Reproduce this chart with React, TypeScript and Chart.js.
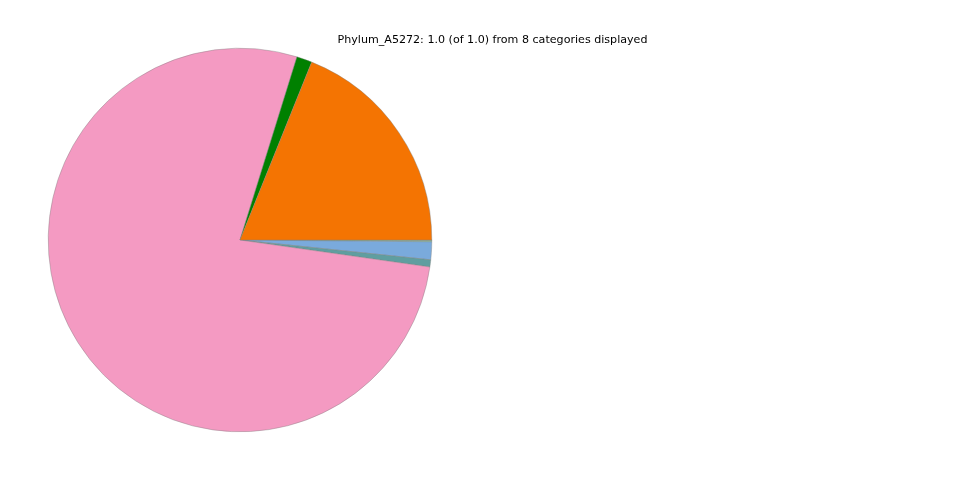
import React, { useEffect, useRef } from "react";
import { Chart, registerables } from "chart.js";

Chart.register(...registerables);

// Categories in matplotlib order (counter-clockwise from 3 o'clock)
const categories = ["Cat_1", "Cat_2", "Cat_3", "Cat_4", "Cat_5", "Cat_6", "Cat_7", "Cat_8"];
const values = [0.189, 0.013, 0.7755, 0.006, 0.015, 0.0008, 0.0004, 0.0003];
const colors = ["#f47402", "#008000", "#f49ac2", "#5f9ea0", "#7aaadc", "#90ee90", "#b0b0b0", "#d2b48c"];
const titleText = "Phylum_A5272: 1.0 (of 1.0) from 8 categories displayed";

export default function App() {
  const ref = useRef<HTMLCanvasElement>(null);
  useEffect(() => {
    document.body.style.margin = "0";
    const ctx = ref.current!;
    // Chart.js draws clockwise; reverse to mimic counter-clockwise ordering
    const labels = [...categories].reverse();
    const data = [...values].reverse();
    const bg = [...colors].reverse();
    const titlePlugin = {
      id: "titleText",
      afterDraw(chart: any) {
        const c = chart.ctx;
        c.save();
        c.font = '11.1px "DejaVu Sans"';
        c.fillStyle = "#000";
        c.textAlign = "center";
        c.textBaseline = "alphabetic";
        c.fillText(titleText, 492.5, 43);
        c.restore();
      },
    };
    const chart = new Chart(ctx, {
      type: "pie",
      data: {
        labels,
        datasets: [
          {
            data,
            backgroundColor: bg,
            borderColor: "#7f7f7f",
            borderWidth: 0.4,
          },
        ],
      },
      options: {
        responsive: false,
        animation: false,
        rotation: 90,
        layout: { padding: { left: 48, right: 528, top: 48, bottom: 48 } },
        plugins: {
          legend: { display: false },
          title: { display: false },
          tooltip: { enabled: false },
        },
      },
      plugins: [titlePlugin],
    });
    return () => chart.destroy();
  }, []);
  return (
    <div style={{ width: 960, height: 480, background: "#fff" }}>
      <canvas ref={ref} width={960} height={480} style={{ display: "block" }} />
    </div>
  );
}
